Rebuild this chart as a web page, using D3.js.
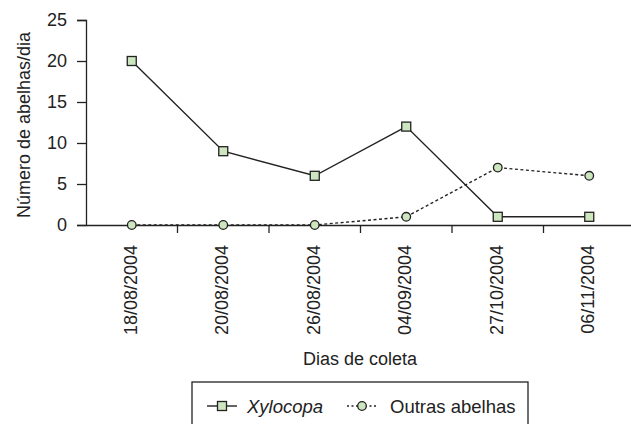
<!DOCTYPE html>
<html><head><meta charset="utf-8">
<script src="https://cdn.jsdelivr.net/npm/d3@7"></script>
<style>body{margin:0;background:#fff}svg{display:block;font-family:"Liberation Sans",Arial,sans-serif}</style>
</head><body><svg id="c" width="631" height="424"></svg>
<script>
const categories = ["18/08/2004","20/08/2004","26/08/2004","04/09/2004","27/10/2004","06/11/2004"];
const xylocopa = [20, 9, 6, 12, 1, 1];
const outras = [0, 0, 0, 1, 7, 6];
const yTicks = [0, 5, 10, 15, 20, 25];

const svg = d3.select("#c");
const mLeft = 86, mRight = 635, mTop = 20, mBottom = 225;
const x = d3.scaleBand().domain(categories).range([mLeft, mRight]);
const y = d3.scaleLinear().domain([0, 25]).range([mBottom, mTop]);
const cx = d => x(d) + x.bandwidth() / 2;
const col = "#222";
const fs = 18;

// y axis
const ya = svg.append("g").attr("transform", `translate(${mLeft},0)`)
  .call(d3.axisLeft(y).tickValues(yTicks).tickSize(9).tickPadding(10));
ya.select(".domain").attr("stroke", col).attr("stroke-width", 1.3);
ya.selectAll(".tick line").attr("stroke", col).attr("stroke-width", 1.3);
ya.selectAll("text").attr("font-size", fs).attr("fill", col);

// x axis
const xa = svg.append("g").attr("transform", `translate(0,${mBottom})`)
  .call(d3.axisBottom(x).tickSize(0));
xa.select(".domain").attr("stroke", col).attr("stroke-width", 1.3);
xa.selectAll(".tick text").attr("font-size", fs).attr("fill", col)
  .attr("text-anchor", "end").attr("transform", "translate(5,20) rotate(-90)").attr("y", 0).attr("dy", 0);
// boundary ticks
xa.selectAll(".btick").data(categories.slice(1)).enter().append("line")
  .attr("x1", d => x(d)).attr("x2", d => x(d)).attr("y1", 0).attr("y2", 8)
  .attr("stroke", col).attr("stroke-width", 1.3);

// lines
const line = d3.line().x((d, i) => cx(categories[i])).y(d => y(d));
svg.append("path").datum(outras).attr("d", line).attr("fill", "none")
  .attr("stroke", col).attr("stroke-width", 1.4).attr("stroke-dasharray", "3,2.5");
svg.append("path").datum(xylocopa).attr("d", line).attr("fill", "none")
  .attr("stroke", col).attr("stroke-width", 1.4);

const fillC = "#cde6bf";
svg.selectAll(".circ").data(outras).enter().append("circle")
  .attr("cx", (d, i) => cx(categories[i])).attr("cy", d => y(d)).attr("r", 4.3)
  .attr("fill", fillC).attr("stroke", col).attr("stroke-width", 1.3);
svg.selectAll(".sq").data(xylocopa).enter().append("rect")
  .attr("x", (d, i) => cx(categories[i]) - 4.5).attr("y", d => y(d) - 4.5)
  .attr("width", 9).attr("height", 9)
  .attr("fill", fillC).attr("stroke", col).attr("stroke-width", 1.3);

// titles
svg.append("text").attr("transform", `translate(30,125) rotate(-90)`)
  .attr("text-anchor", "middle").attr("font-size", fs).attr("fill", col).text("Número de abelhas/dia");
svg.append("text").attr("x", 360).attr("y", 365).attr("text-anchor", "middle")
  .attr("font-size", fs).attr("fill", col).text("Dias de coleta");

// legend
const lg = svg.append("g");
lg.append("rect").attr("x", 192).attr("y", 382).attr("width", 336).attr("height", 60)
  .attr("fill", "#fff").attr("stroke", col).attr("stroke-width", 1.3);
const ly = 406;
lg.append("line").attr("x1", 207).attr("x2", 237).attr("y1", ly).attr("y2", ly).attr("stroke", col).attr("stroke-width", 1.4);
lg.append("rect").attr("x", 217.5).attr("y", ly - 4.5).attr("width", 9).attr("height", 9)
  .attr("fill", fillC).attr("stroke", col).attr("stroke-width", 1.3);
lg.append("text").attr("x", 247).attr("y", ly + 6.5).attr("font-size", 18.5).attr("font-style", "italic")
  .attr("fill", col).text("Xylocopa");
lg.append("line").attr("x1", 347).attr("x2", 376).attr("y1", ly).attr("y2", ly).attr("stroke", col)
  .attr("stroke-width", 1.4).attr("stroke-dasharray", "2,2.5");
lg.append("circle").attr("cx", 362).attr("cy", ly).attr("r", 4.3)
  .attr("fill", fillC).attr("stroke", col).attr("stroke-width", 1.3);
lg.append("text").attr("x", 390).attr("y", ly + 6.5).attr("font-size", 18.5).attr("fill", col).text("Outras abelhas");
</script></body></html>
